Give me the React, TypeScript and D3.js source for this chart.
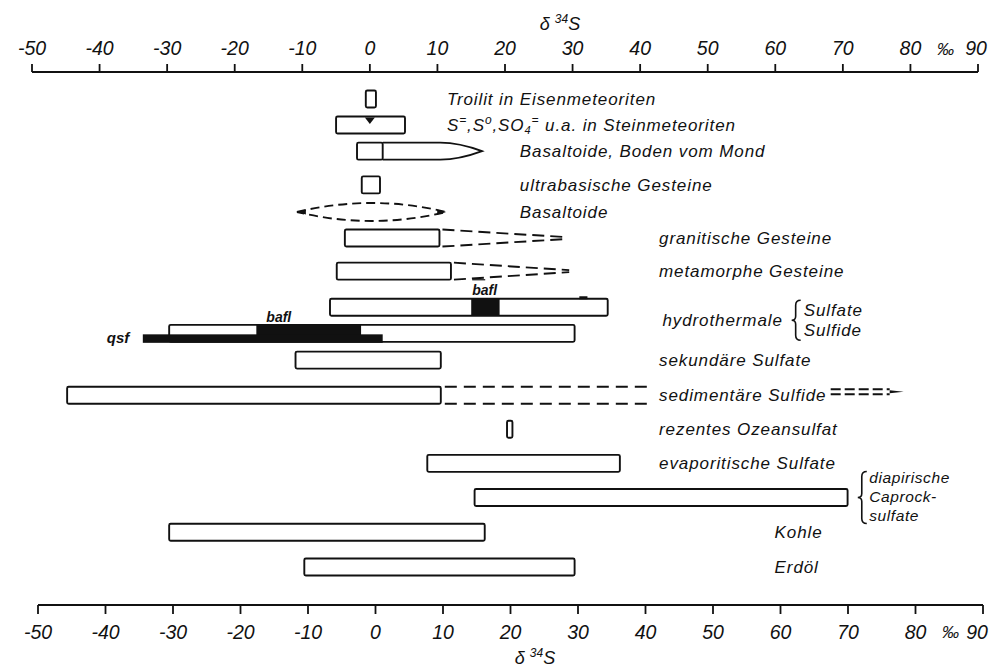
import React from "react";
import * as d3 from "d3";

// ---- data ----
const tickValues = [-50, -40, -30, -20, -10, 0, 10, 20, 30, 40, 50, 60, 70, 80, 90];
const tickLabels = ["-50", "-40", "-30", "-20", "-10", "0", "10", "20", "30", "40", "50", "60", "70", "80", "90"];

const categories = [
  "Troilit in Eisenmeteoriten",
  "S⁼,S°,SO₄⁼ u.a. in Steinmeteoriten",
  "Basaltoide, Boden vom Mond",
  "ultrabasische Gesteine",
  "Basaltoide",
  "granitische Gesteine",
  "metamorphe Gesteine",
  "hydrothermale Sulfate",
  "hydrothermale Sulfide",
  "sekundäre Sulfate",
  "sedimentäre Sulfide",
  "rezentes Ozeansulfat",
  "evaporitische Sulfate",
  "diapirische Caprock-sulfate",
  "Kohle",
  "Erdöl",
];
const rowSlot = [0, 0.78, 1.56, 2.57, 3.38, 4.16, 5.15, 6.23, 7.01, 7.81, 8.86, 9.88, 10.9, 11.92, 12.96, 14];
const boxMin = [-0.6, -5, -1.9, -1.2, -10.8, -3.7, -4.9, -5.9, -29.7, -11, -44.8, 20.3, 8.5, 15.5, -29.7, -9.7];
const boxMax = [0.9, 5.2, 1.9, 1.5, 11.3, 10.3, 12, 35.2, 30.3, 10.5, 10.5, 21.1, 37, 70.7, 17, 30.3];
const rowStyle = ["box", "box", "ogive", "box", "lens", "wedge", "wedge", "box", "box", "box", "sedi", "box", "box", "box", "box", "box"];
const tailMax = [0, 0, 16.6, 0, 0, 28.9, 29.5, 0, 0, 0, 79, 0, 0, 0, 0, 0];
const labelText = ["Troilit in Eisenmeteoriten", "", "Basaltoide, Boden vom Mond", "ultrabasische Gesteine", "Basaltoide", "granitische Gesteine", "metamorphe Gesteine", "", "", "sekundäre Sulfate", "sedimentäre Sulfide", "rezentes Ozeansulfat", "evaporitische Sulfate", "", "Kohle", "Erdöl"];
const labelAt = [11.4, 11.4, 22.2, 22.2, 22.2, 42.8, 42.8, 0, 0, 42.8, 42.8, 42.8, 42.8, 0, 59.9, 59.9];

// hydrothermal black portions
const sulfateBlack = [15, 19.2];
const sulfideBlack = [-16.8, -1.3];
const sulfideQsf = [-33.6, 1.9];
const sulfateMark = [31, 32.2];
const meteoriteMean = 0;
const sediGap = [41.4, 68.2];

const groupHydro = ["hydrothermale", "Sulfate", "Sulfide"];
const groupDiapir = ["diapirische", "Caprock-", "sulfate"];
const groupHydroAt = [43.3, 64.2];
const groupDiapirAt = [72.8, 73.9];

export default function App() {
  const W = 992, H = 667;
  const x = d3.scaleLinear().domain([-50, 90]).range([32, 978]);
  const xb = d3.scaleLinear().domain([-50, 90]).range([38, 983]);
  const y = d3.scaleLinear().domain([0, 14]).range([99, 567]);
  const h = 17;
  const ink = "#111";
  const sw = 1.9;
  const font = "'Liberation Sans', Arial, sans-serif";
  const lblStyle: React.CSSProperties = { fontFamily: font, fontStyle: "italic", fontSize: 17, letterSpacing: 0.9 };
  const tickStyle: React.CSSProperties = { fontFamily: font, fontStyle: "italic", fontSize: 19.5 };

  const brace = (bx: number, top: number, bot: number) => {
    const mid = (top + bot) / 2;
    return `M${bx + 5},${top} Q${bx},${top} ${bx},${top + 5} L${bx},${mid - 4} Q${bx},${mid} ${bx - 4},${mid} Q${bx},${mid} ${bx},${mid + 4} L${bx},${bot - 5} Q${bx},${bot} ${bx + 5},${bot}`;
  };

  const topAxisY = 72;
  const botAxisY = 605;

  return (
    <svg width={W} height={H} viewBox={`0 0 ${W} ${H}`} style={{ position: "absolute", left: 0, top: 0, background: "#fff" }}>
      <rect x={0} y={0} width={W} height={H} fill="#fff" />
      {/* top axis */}
      <g>
        <line x1={x(-50)} x2={x(90)} y1={topAxisY} y2={topAxisY} stroke={ink} strokeWidth={2} />
        {tickValues.map((v, i) => (
          <g key={"tt" + i}>
            <line x1={x(v)} x2={x(v)} y1={topAxisY} y2={topAxisY - 8} stroke={ink} strokeWidth={1.8} />
            <text x={Math.min(x(v), 976)} y={55} textAnchor="middle" style={tickStyle} fill={ink}>{tickLabels[i]}</text>
          </g>
        ))}
        <text x={x(85.2)} y={55} textAnchor="middle" style={{ fontFamily: font, fontStyle: "italic", fontSize: 17 }} fill={ink}>‰</text>
        <text x={560} y={30} textAnchor="middle" style={{ fontFamily: font, fontStyle: "italic", fontSize: 18 }} fill={ink}>
          δ <tspan fontSize={12} dy={-7}>34</tspan><tspan dy={7}>S</tspan>
        </text>
      </g>
      {/* bottom axis */}
      <g>
        <line x1={xb(-50)} x2={xb(90)} y1={botAxisY} y2={botAxisY} stroke={ink} strokeWidth={2} />
        {tickValues.map((v, i) => (
          <g key={"bt" + i}>
            <line x1={xb(v)} x2={xb(v)} y1={botAxisY} y2={botAxisY + 9} stroke={ink} strokeWidth={1.8} />
            <text x={Math.min(xb(v), 977)} y={639} textAnchor="middle" style={tickStyle} fill={ink}>{tickLabels[i]}</text>
          </g>
        ))}
        <text x={xb(85.2)} y={638} textAnchor="middle" style={{ fontFamily: font, fontStyle: "italic", fontSize: 17 }} fill={ink}>‰</text>
        <text x={535} y={664} textAnchor="middle" style={{ fontFamily: font, fontStyle: "italic", fontSize: 18 }} fill={ink}>
          δ <tspan fontSize={12} dy={-7}>34</tspan><tspan dy={7}>S</tspan>
        </text>
      </g>

      {/* rows */}
      {categories.map((c, i) => {
        const yc = y(rowSlot[i]);
        const top = yc - h / 2, bot = yc + h / 2;
        const x0 = x(boxMin[i]), x1 = x(boxMax[i]);
        const st = rowStyle[i];
        const parts: React.ReactNode[] = [];
        if (st === "lens") {
          const xc = (x0 + x1) / 2;
          const d = `M${x0},${yc} Q${xc},${yc - 18} ${x1},${yc} Q${xc},${yc + 18} ${x0},${yc}`;
          parts.push(<path key="l" d={d} fill="none" stroke={ink} strokeWidth={sw} strokeDasharray="9,5" />);
          parts.push(<path key="la" d={`M${x0},${yc} l9,-2.5 l0,5 z`} fill={ink} />);
          parts.push(<path key="ra" d={`M${x1},${yc} l-9,-2.5 l0,5 z`} fill={ink} />);
        } else {
          parts.push(<rect key="r" x={x0} y={top} width={x1 - x0} height={h} rx={1.5} fill="#fff" stroke={ink} strokeWidth={sw} />);
        }
        if (st === "ogive") {
          const xt = x(tailMax[i]);
          const xs = x1 + (xt - x1) * 0.58;
          const d = `M${x1},${top} L${xs},${top} Q${xs + (xt - xs) * 0.45},${top} ${xt},${yc} Q${xs + (xt - xs) * 0.45},${bot} ${xs},${bot} L${x1},${bot}`;
          parts.push(<path key="o" d={d} fill="none" stroke={ink} strokeWidth={sw} />);
        }
        if (st === "wedge") {
          const xt = x(tailMax[i]);
          parts.push(<line key="w1" x1={x1 + 3} y1={top} x2={xt} y2={yc - 1} stroke={ink} strokeWidth={sw} strokeDasharray="12,6" />);
          parts.push(<line key="w2" x1={x1 + 3} y1={bot} x2={xt} y2={yc + 1} stroke={ink} strokeWidth={sw} strokeDasharray="12,6" />);
        }
        if (st === "sedi") {
          const g0 = x(sediGap[0]), g1 = x(sediGap[1]), xt = x(tailMax[i]);
          parts.push(<line key="s1" x1={x1 + 4} y1={top} x2={g0} y2={top} stroke={ink} strokeWidth={sw} strokeDasharray="12,7" />);
          parts.push(<line key="s2" x1={x1 + 4} y1={bot} x2={g0} y2={bot} stroke={ink} strokeWidth={sw} strokeDasharray="12,7" />);
          parts.push(<line key="s3" x1={g1} y1={yc - 6} x2={xt - 14} y2={yc - 6} stroke={ink} strokeWidth={sw} strokeDasharray="10,4" />);
          parts.push(<line key="s4" x1={g1} y1={yc - 1} x2={xt - 14} y2={yc - 1} stroke={ink} strokeWidth={sw} strokeDasharray="10,4" />);
          parts.push(<path key="s5" d={`M${xt - 14},${yc - 5} L${xt},${yc - 3.5} L${xt - 14},${yc - 2} z`} fill={ink} />);
        }
        return <g key={c}>{parts}</g>;
      })}

      {/* meteorite mean marker */}
      {(() => {
        const yc = y(rowSlot[1]);
        const xm = x(meteoriteMean);
        return <path d={`M${xm - 5},${yc - 7.5} L${xm + 5},${yc - 7.5} L${xm},${yc - 1} z`} fill={ink} />;
      })()}

      {/* meteorite sulfur species label with super/subscripts */}
      <text x={x(labelAt[1])} y={y(rowSlot[1]) + 6} style={lblStyle} fill={ink}>
        S<tspan fontSize={12} dy={-7}>=</tspan><tspan dy={7}>,S</tspan><tspan fontSize={12} dy={-7}>o</tspan><tspan dy={7}>,SO</tspan><tspan fontSize={11} dy={3}>4</tspan><tspan fontSize={12} dy={-10}>=</tspan><tspan dy={7}> u.a. in Steinmeteoriten</tspan>
      </text>

      {/* hydrothermal black fills */}
      {(() => {
        const ys = y(rowSlot[7]);
        const yf = y(rowSlot[8]);
        return (
          <g>
            <rect x={x(sulfateBlack[0])} y={ys - h / 2} width={x(sulfateBlack[1]) - x(sulfateBlack[0])} height={h} fill={ink} />
            <line x1={x(sulfateMark[0])} x2={x(sulfateMark[1])} y1={ys - h / 2 - 1} y2={ys - h / 2 - 1} stroke={ink} strokeWidth={3} />
            <rect x={x(sulfideBlack[0])} y={yf - h / 2} width={x(sulfideBlack[1]) - x(sulfideBlack[0])} height={h} fill={ink} />
            <rect x={x(sulfideQsf[0])} y={yf + 1} width={x(sulfideQsf[1]) - x(sulfideQsf[0])} height={h / 2} fill={ink} />
            <text x={x(sulfateBlack[0]) + 1} y={ys - h / 2 - 4} style={{ fontFamily: font, fontStyle: "italic", fontWeight: "bold", fontSize: 14 }} fill={ink}>bafl</text>
            <line x1={x(sulfateBlack[0]) + 1} x2={x(sulfateBlack[0]) + 14} y1={ys - h / 2 - 19} y2={ys - h / 2 - 19} stroke={ink} strokeWidth={1.2} />
            <text x={x(sulfideBlack[0]) + 10} y={yf - h / 2 - 3} style={{ fontFamily: font, fontStyle: "italic", fontWeight: "bold", fontSize: 14 }} fill={ink}>bafl</text>
            <text x={x(sulfideQsf[0]) - 36} y={yf + 10} style={{ fontFamily: font, fontStyle: "italic", fontWeight: "bold", fontSize: 15 }} fill={ink}>qsf</text>
          </g>
        );
      })()}

      {/* row labels */}
      {labelText.map((t, i) =>
        t ? (
          <text key={"lb" + i} x={x(labelAt[i])} y={y(rowSlot[i]) + 6} style={lblStyle} fill={ink}>{t}</text>
        ) : null
      )}

      {/* hydrothermal group label */}
      {(() => {
        const ym = (y(rowSlot[7]) + y(rowSlot[8])) / 2;
        const bx = x(groupHydroAt[1]) - 8;
        return (
          <g>
            <text x={x(groupHydroAt[0])} y={ym + 6} style={lblStyle} fill={ink}>{groupHydro[0]}</text>
            <path d={brace(bx, ym - 20, ym + 20)} fill="none" stroke={ink} strokeWidth={1.6} />
            <text x={x(groupHydroAt[1])} y={ym - 4} style={lblStyle} fill={ink}>{groupHydro[1]}</text>
            <text x={x(groupHydroAt[1])} y={ym + 16} style={lblStyle} fill={ink}>{groupHydro[2]}</text>
          </g>
        );
      })()}

      {/* diapir group label */}
      {(() => {
        const ym = y(rowSlot[13]);
        const bx = x(groupDiapirAt[0]);
        return (
          <g>
            <path d={brace(bx, ym - 26, ym + 26)} fill="none" stroke={ink} strokeWidth={1.6} />
            {groupDiapir.map((t, k) => (
              <text key={"dp" + k} x={x(groupDiapirAt[1])} y={ym - 14 + k * 19} style={{ ...lblStyle, fontSize: 15.5, letterSpacing: 0.6 }} fill={ink}>{t}</text>
            ))}
          </g>
        );
      })()}
    </svg>
  );
}
